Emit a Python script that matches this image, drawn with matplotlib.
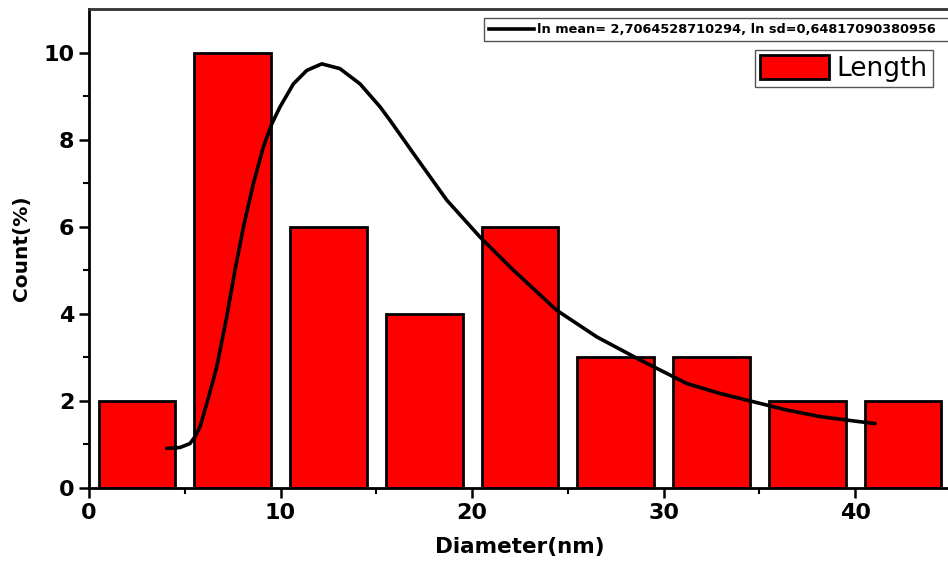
import numpy as np
import matplotlib.pyplot as plt
from matplotlib.lines import Line2D

plt.rcParams['font.family'] = ['DejaVu Sans']

# histogram bins (centres) and counts
bin_centers = [2.5, 7.5, 12.5, 17.5, 22.5, 27.5, 32.5, 37.5, 42.5]
counts = [2, 10, 6, 4, 6, 3, 3, 2, 2]

# fitted lognormal curve
fit_x = [4.06, 4.75, 5.27, 5.54, 5.8, 6.15, 6.67, 7.19, 7.62, 8.06, 8.58,
         9.1, 9.54, 9.97, 10.67, 11.37, 12.15, 13.1, 14.15, 15.2, 15.72,
         16.94, 18.68, 20.42, 22.16, 24.42, 26.51, 28.77, 31.21, 32.95,
         34.69, 36.43, 38.17, 39.91, 41.04]
fit_y = [0.91, 0.93, 1.02, 1.18, 1.41, 1.94, 2.78, 3.93, 5.0, 5.99, 6.99,
         7.83, 8.36, 8.75, 9.28, 9.59, 9.74, 9.63, 9.28, 8.75, 8.44,
         7.68, 6.61, 5.76, 5.0, 4.08, 3.47, 2.94, 2.4, 2.17,
         1.98, 1.79, 1.64, 1.54, 1.48]

fit_label = 'ln mean= 2,7064528710294, ln sd=0,64817090380956'

fig = plt.figure(figsize=(9.48, 5.62), dpi=100)
ax = fig.add_axes([89/948, 1 - 488/562, (951 - 89)/948, (488 - 9)/562])

bars = ax.bar(bin_centers, counts, width=4.0, color='#ff0000', edgecolor='black',
              linewidth=2, label='Length', zorder=2)
line, = ax.plot(fit_x, fit_y, color='black', lw=2.6, zorder=3,
                solid_joinstyle='round', solid_capstyle='round')

ax.set_xlim(0, 45)
ax.set_ylim(0, 11)
ax.set_xticks([0, 10, 20, 30, 40])
ax.set_xticks([5, 15, 25, 35], minor=True)
ax.set_yticks([0, 2, 4, 6, 8, 10])
ax.set_yticks([1, 3, 5, 7, 9], minor=True)
ax.tick_params(which='major', direction='out', length=7, width=1.8, labelsize=16)
ax.tick_params(which='minor', direction='out', length=4, width=1.5)
ax.tick_params(axis='x', pad=4)
for lab in ax.get_xticklabels() + ax.get_yticklabels():
    lab.set_fontweight('bold')

for s in ['left', 'bottom', 'top']:
    ax.spines[s].set_linewidth(2)
ax.spines['top'].set_color('#333333')
ax.spines['right'].set_visible(False)

ax.set_xlabel('Diameter(nm)', fontsize=15.5, fontweight='bold', labelpad=10)
ax.set_ylabel('Count(%)', fontsize=14.5, fontweight='bold', labelpad=9)

# box runs off the right edge of the figure, as in the original
leg1 = fig.legend([Line2D([0], [0], color='black', lw=2.6)], [fit_label],
                  loc='upper left', mode='expand',
                  bbox_to_anchor=(484/948, 1 - 41/562, 480/948, 23/562),
                  prop={'size': 9.3, 'weight': 'bold'}, handlelength=3.5,
                  handletextpad=0.2, borderpad=0.4, borderaxespad=0,
                  fancybox=False, edgecolor='#555555', framealpha=1)
leg1.get_frame().set_linewidth(1)

leg2 = fig.legend([bars], ['Length'], loc='upper left',
                  bbox_to_anchor=(755/948, 1 - 50/562), prop={'size': 19},
                  handlelength=2.6, handleheight=1.0, handletextpad=0.3,
                  borderpad=0.2, borderaxespad=0, fancybox=False,
                  edgecolor='#555555', framealpha=1)
leg2.get_frame().set_linewidth(1)

fig.savefig('out.png', dpi=100)
